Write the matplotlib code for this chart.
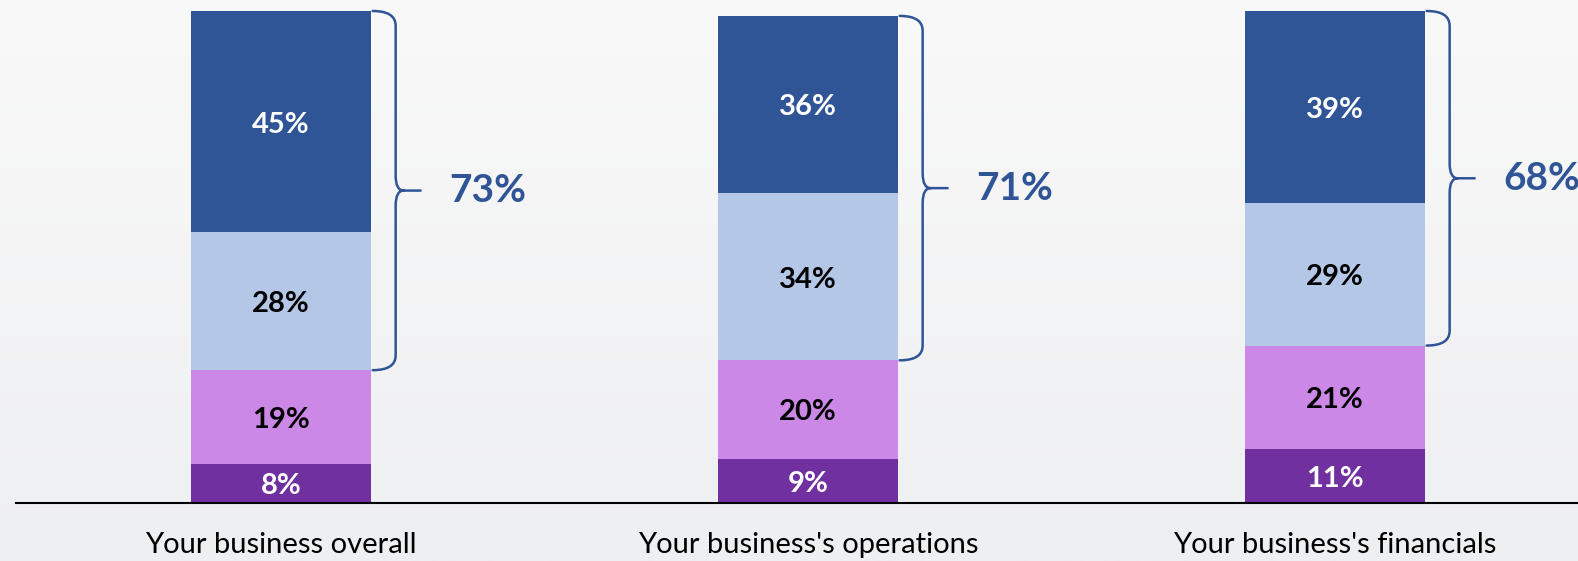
import numpy as np
import matplotlib
matplotlib.use("Agg")
import matplotlib.pyplot as plt
from matplotlib.path import Path
from matplotlib.patches import PathPatch

categories = ["Your business overall", "Your business's operations", "Your business's financials"]
# stacked from the bottom up
seg_bottom = [8, 9, 11]
seg_low = [19, 20, 21]
seg_mid = [28, 34, 29]
seg_top = [45, 36, 39]
brace_totals = [73, 71, 68]

colors = ["#7030A0", "#CC88E6", "#B4C7E7", "#2F5597"]
label_colors = ["white", "black", "black", "white"]
brace_color = "#2F5597"

plt.rcParams["font.family"] = ["Lato", "DejaVu Sans"]

fig = plt.figure(figsize=(15.78, 5.61), dpi=100)

# soft vertical background gradient
bg = fig.add_axes([0, 0, 1, 1], zorder=-10)
grad = np.linspace(0, 1, 256).reshape(-1, 1)
bg.imshow(grad, aspect="auto", extent=[0, 1, 0, 1], origin="upper",
          cmap=matplotlib.colors.LinearSegmentedColormap.from_list(
              "bg", ["#F9F9F9", "#EEEFF1"]))
bg.axis("off")

ax = fig.add_axes([16 / 1578, 58 / 561, 1562 / 1578, 492 / 561])
ax.patch.set_alpha(0)

x = np.arange(len(categories))
width = 0.34
segments = [seg_bottom, seg_low, seg_mid, seg_top]
base = np.zeros(len(categories))
for seg, col, tcol in zip(segments, colors, label_colors):
    vals = np.array(seg, dtype=float)
    ax.bar(x, vals, width, bottom=base, color=col, linewidth=0)
    for xi, b, v in zip(x, base, vals):
        ax.text(xi, b + v / 2 - 0.6, f"{v:.0f}%", ha="center", va="center",
                color=tcol, fontsize=21, fontweight="bold")
    base += vals

# curly braces spanning the two upper segments
lower_edge = np.array(seg_bottom) + np.array(seg_low)
upper_edge = base
px_x = 1 / 527.0  # data units per pixel along x
for xi, lo, hi, tot in zip(x, lower_edge, upper_edge, brace_totals):
    xr = xi + width / 2 + 2 * px_x
    xv = xi + width / 2 + 25 * px_x
    xt = xv + 25 * px_x
    mid = (lo + hi) / 2
    ry = 3.0
    rx = 8 * px_x
    verts = [
        (xr, hi), (xv, hi), (xv, hi - ry),
        (xv, mid + ry), (xv, mid), (xv + rx, mid),
        (xt, mid),
        (xv + rx, mid), (xv, mid), (xv, mid - ry),
        (xv, lo + ry), (xv, lo), (xr, lo),
    ]
    codes = [
        Path.MOVETO, Path.CURVE3, Path.CURVE3,
        Path.LINETO, Path.CURVE3, Path.CURVE3,
        Path.LINETO,
        Path.MOVETO, Path.CURVE3, Path.CURVE3,
        Path.LINETO, Path.CURVE3, Path.CURVE3,
    ]
    ax.add_patch(PathPatch(Path(verts, codes), fill=False,
                           edgecolor=brace_color, linewidth=1.8,
                           capstyle="round", clip_on=False))
    ax.text(xi + 207 * px_x, mid, f"{tot}%", ha="center", va="center",
            color=brace_color, fontsize=28, fontweight="bold", clip_on=False)

ax.set_xlim(-0.503, 2.461)
ax.set_ylim(0, 100)
ax.set_yticks([])
ax.set_xticks(x)
ax.set_xticklabels(categories, fontsize=21)
ax.tick_params(axis="x", length=0, pad=21)
for side in ["top", "right", "left"]:
    ax.spines[side].set_visible(False)
ax.spines["bottom"].set_linewidth(1.5)

fig.savefig("out.png", dpi=100)
